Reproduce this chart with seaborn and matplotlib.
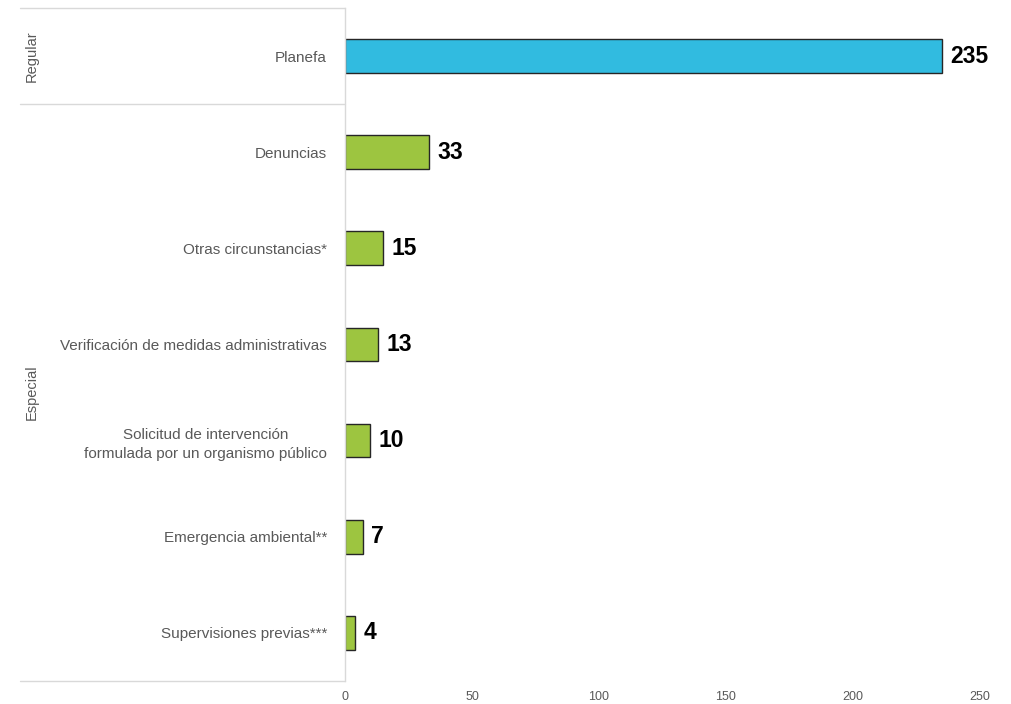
import matplotlib
matplotlib.use("Agg")
import matplotlib.pyplot as plt
import matplotlib.transforms as mtransforms
import seaborn as sns
import pandas as pd

# -----------------------------
# Data
# -----------------------------
categories = [
    "Planefa",
    "Denuncias",
    "Otras circunstancias*",
    "Verificación de medidas administrativas",
    "Solicitud de intervención\nformulada por un organismo público",
    "Emergencia ambiental**",
    "Supervisiones previas***",
]
values = [235, 33, 15, 13, 10, 7, 4]
groups = ["Regular", "Especial", "Especial", "Especial", "Especial", "Especial", "Especial"]
x_ticks = [0, 50, 100, 150, 200, 250]

df = pd.DataFrame({"categoria": categories, "valor": values, "tipo": groups})

sns.set_style("white")
plt.rcParams["font.family"] = ["Liberation Sans", "DejaVu Sans"]

fig = plt.figure(figsize=(10.11, 7.04), dpi=100)
ax = fig.add_axes([0.3412, 0.0327, 0.6281, 0.956])

palette = {"Regular": "#31BBE0", "Especial": "#9DC540"}
sns.barplot(data=df, x="valor", y="categoria", hue="tipo", palette=palette,
            width=0.35, edgecolor="#262626", linewidth=1.0, dodge=False,
            saturation=1, legend=False, ax=ax)

for cont in ax.containers:
    ax.bar_label(cont, padding=6, fontsize=16.5, fontweight="bold", color="black")

ax.set_xlim(0, 250)
ax.set_ylim(6.5, -0.5)
ax.set_xticks(x_ticks)
ax.set_xticklabels([str(t) for t in x_ticks], fontsize=9, color="#595959")
ax.tick_params(axis="x", length=0, pad=7)
ax.tick_params(axis="y", length=0, pad=13)
for lab in ax.get_yticklabels():
    lab.set_fontsize(11)
    lab.set_color("#595959")
    lab.set_multialignment("center")
    lab.set_linespacing(1.45)
ax.set_xlabel("")
ax.set_ylabel("")

for s in ["top", "right", "bottom"]:
    ax.spines[s].set_visible(False)
ax.spines["left"].set_color("#D9D9D9")
ax.spines["left"].set_linewidth(1.0)

# Group separators and labels on the left
trans = mtransforms.blended_transform_factory(ax.transAxes, ax.transData)
x0 = -0.512
for yy in [-0.5, 0.5, 6.5]:
    ax.plot([x0, 0], [yy, yy], color="#D9D9D9", lw=1.0, transform=trans, clip_on=False)
ax.text(-0.494, 0, "Regular", rotation=90, ha="center", va="center",
        fontsize=10.5, color="#595959", transform=trans)
ax.text(-0.494, 3.5, "Especial", rotation=90, ha="center", va="center",
        fontsize=10.5, color="#595959", transform=trans)

fig.savefig("out.png", dpi=100)
